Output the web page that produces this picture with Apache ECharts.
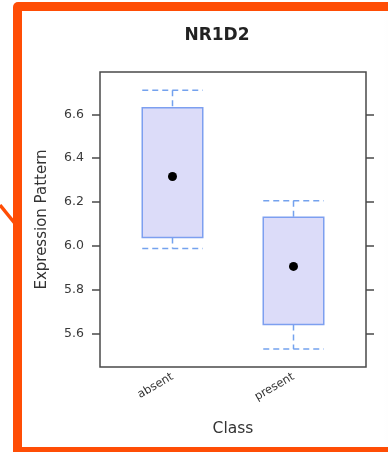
<!DOCTYPE html>
<html>
<head>
<meta charset="utf-8">
<script src="https://cdn.jsdelivr.net/npm/echarts@6/dist/echarts.min.js"></script>
<style>
html,body{margin:0;padding:0;background:#fff;}
#chart{width:388px;height:452px;}
</style>
</head>
<body>
<div id="chart"></div>
<script>
// ---- data ----
var categories = ['absent', 'present'];
var whiskerLow  = [5.988, 5.529];
var boxLow      = [6.038, 5.641];
var medians     = [6.316, 5.906];
var boxHigh     = [6.630, 6.130];
var whiskerHigh = [6.710, 6.205];
var yTicks = [5.6, 5.8, 6.0, 6.2, 6.4, 6.6];
var titleText = 'NR1D2';
var xName = 'Class';
var yName = 'Expression Pattern';

var yMin = 5.447, yMax = 6.793;

var boxData = categories.map(function (c, i) {
  return [i, whiskerLow[i], boxLow[i], boxHigh[i], whiskerHigh[i]];
});
var medianData = categories.map(function (c, i) { return [i, medians[i]]; });

var dash = { stroke: '#74a2ee', lineWidth: 1.5, lineDash: [6, 4], fill: null };

function renderBox(params, api) {
  var x = api.value(0);
  var lo = api.coord([x, api.value(1)]);
  var q1 = api.coord([x, api.value(2)]);
  var q3 = api.coord([x, api.value(3)]);
  var hi = api.coord([x, api.value(4)]);
  var bw = api.size([1, 0])[0] * 0.5;
  var cx = lo[0];
  return {
    type: 'group',
    children: [
      { type: 'line', shape: { x1: cx - bw / 2, y1: hi[1], x2: cx + bw / 2, y2: hi[1] }, style: dash },
      { type: 'line', shape: { x1: cx, y1: hi[1], x2: cx, y2: q3[1] }, style: dash },
      { type: 'line', shape: { x1: cx, y1: q1[1], x2: cx, y2: lo[1] }, style: dash },
      { type: 'line', shape: { x1: cx - bw / 2, y1: lo[1], x2: cx + bw / 2, y2: lo[1] }, style: dash },
      { type: 'rect', shape: { x: cx - bw / 2, y: q3[1], width: bw, height: q1[1] - q3[1] },
        style: { fill: '#dcdcf9', stroke: '#7d9ff0', lineWidth: 1.5 } }
    ]
  };
}

var FONT = 'DejaVu Sans';
var chart = echarts.init(document.getElementById('chart'), null, { renderer: 'canvas' });
chart.setOption({
  animation: false,
  backgroundColor: '#ffffff',
  textStyle: { fontFamily: FONT },
  graphic: [
    { type: 'rect', z: -10, shape: { x: 13, y: 2, width: 420, height: 470, r: 5 }, style: { fill: '#ff4d05' } },
    { type: 'rect', z: -9, shape: { x: 22, y: 11, width: 420, height: 436 },
      style: { fill: new echarts.graphic.LinearGradient(0, 0, 1, 0, [
        { offset: 0, color: '#ffffff' }, { offset: 0.86, color: '#ffffff' }, { offset: 1, color: '#f1f1f1' }]) } },
    { type: 'line', z: -8, shape: { x1: 0, y1: 205, x2: 17, y2: 226 }, style: { stroke: '#ff4d05', lineWidth: 3.5 } }
  ],
  title: {
    text: titleText,
    left: 212, top: 22, textAlign: 'center',
    textStyle: { fontFamily: FONT, fontSize: 17, fontWeight: 'bold', color: '#222' }
  },
  grid: [
    { left: 100, right: 22, top: 72, bottom: 85, show: true, borderColor: '#4a4a4a', borderWidth: 1.5, backgroundColor: 'transparent' },
    { left: 112, right: 34, top: 72, bottom: 85 }
  ],
  xAxis: [
    { type: 'value', gridIndex: 0, show: false, min: 0, max: 1 },
    { type: 'category', gridIndex: 1, data: categories,
      axisLine: { show: false }, axisTick: { show: false }, splitLine: { show: false },
      axisLabel: { rotate: 30, margin: 9, fontSize: 11.5, color: '#333', fontFamily: FONT },
      name: xName, nameLocation: 'middle', nameGap: 54,
      nameTextStyle: { fontSize: 15.5, color: '#333', fontFamily: FONT } }
  ],
  yAxis: [
    { type: 'value', gridIndex: 0, position: 'left', min: yMin, max: yMax,
      axisLine: { show: false }, splitLine: { show: false },
      axisTick: { show: true, length: 8, inside: false, customValues: yTicks, lineStyle: { color: '#4a4a4a', width: 1.5 } },
      axisLabel: { customValues: yTicks, margin: 16, fontSize: 12.5, color: '#3a3a3a', fontFamily: FONT,
        formatter: function (v) { return v.toFixed(1); } },
      name: yName, nameLocation: 'middle', nameGap: 50,
      nameTextStyle: { fontSize: 15, color: '#333', fontFamily: FONT } },
    { type: 'value', gridIndex: 0, position: 'right', min: yMin, max: yMax,
      axisLine: { show: false }, splitLine: { show: false }, axisLabel: { show: false },
      axisTick: { show: true, length: 8, inside: false, customValues: yTicks, lineStyle: { color: '#4a4a4a', width: 1.5 } } },
    { type: 'value', gridIndex: 1, min: yMin, max: yMax, show: false, splitLine: { show: false } }
  ],
  series: [
    { type: 'custom', xAxisIndex: 1, yAxisIndex: 2, renderItem: renderBox, data: boxData,
      encode: { x: 0, y: [1, 2, 3, 4] }, z: 2 },
    { type: 'scatter', xAxisIndex: 1, yAxisIndex: 2, data: medianData, symbol: 'circle', symbolSize: 9,
      itemStyle: { color: '#000', opacity: 1 }, z: 3 }
  ]
});
</script>
</body>
</html>
